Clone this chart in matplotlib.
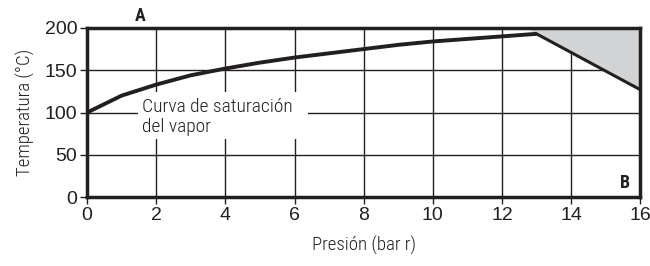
import matplotlib
matplotlib.use('Agg')
import matplotlib.pyplot as plt
from matplotlib.patches import Polygon, Rectangle

# saturation curve
pressure = [0, 1, 2, 3, 4, 5, 6, 7, 8, 9, 10, 11, 12, 13]
temperature = [100, 120, 133, 144, 152, 159, 165, 170, 175, 180, 184, 187, 190, 193]
# limit line and shaded zone
limit_p = [13, 16]
limit_t = [193, 127]
zone_p = [12.7, 13, 16, 16]
zone_t = [200, 193, 127, 200]
xticks = [0, 2, 4, 6, 8, 10, 12, 14, 16]
yticks = [0, 50, 100, 150, 200]

INK = '#231f20'
narrow = ['Roboto Condensed', 'Archivo Narrow', 'DejaVu Sans']
plt.rcParams['font.family'] = ['Liberation Sans', 'DejaVu Sans']

fig = plt.figure(figsize=(6.5, 2.66), dpi=100)
ax = fig.add_axes([0.134, 0.259, 0.851, 0.636])

ax.add_patch(Polygon(list(zip(zone_p, zone_t)), closed=True,
                     facecolor='#d2d3d5', edgecolor='none', zorder=1))
ax.plot(pressure, temperature, color=INK, lw=2.8, zorder=4,
        solid_capstyle='butt')
ax.plot(limit_p, limit_t, color=INK, lw=2.2, zorder=4)

ax.set_xlim(0, 16)
ax.set_ylim(0, 200)
ax.set_xticks(xticks)
ax.set_yticks(yticks)
ax.grid(True, color=INK, lw=1.0, zorder=2)
ax.set_axisbelow(True)
for s in ax.spines.values():
    s.set_linewidth(2.5)
    s.set_color(INK)
    s.set_zorder(5)
ax.tick_params(direction='out', length=5, width=1, labelsize=14,
               colors=INK, pad=2)

ax.set_xlabel('Presión (bar r)', family=narrow, fontweight='light',
              fontsize=13.5, labelpad=9, color=INK)
ax.set_ylabel('Temperatura (°C)', family=narrow, fontweight='light',
              fontsize=13.5, labelpad=7, color=INK)

# white backing behind the curve label
ax.add_patch(Rectangle((1.48, 69), 4.9, 55, facecolor='white',
                       edgecolor='none', zorder=3))
ax.text(1.6, 95, 'Curva de saturación\ndel vapor', family=narrow,
        fontweight='light', fontsize=14, color=INK, va='center', ha='left',
        zorder=3.5, linespacing=1.15)

ax.text(1.55, 203, 'A', family=narrow, fontweight='bold', fontsize=13,
        ha='center', va='bottom', color=INK)
ax.text(15.55, 6, 'B', family=narrow, fontweight='bold', fontsize=13,
        ha='center', va='bottom', color=INK, zorder=6)

fig.savefig('out.png', dpi=100)
